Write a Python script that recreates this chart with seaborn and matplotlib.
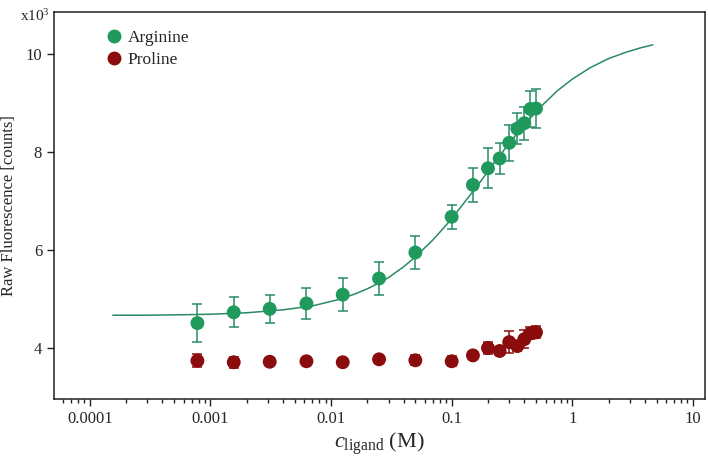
import numpy as np
import pandas as pd
import seaborn as sns
import matplotlib.pyplot as plt

# ligand concentrations (M)
arg_conc = [0.00078, 0.00156, 0.0031, 0.00625, 0.0125, 0.025, 0.05, 0.1, 0.15, 0.2,
            0.25, 0.3, 0.35, 0.4, 0.45, 0.5]
arg_fluo = [4.51, 4.73, 4.80, 4.91, 5.09, 5.42, 5.95, 6.68, 7.33, 7.67,
            7.87, 8.19, 8.48, 8.59, 8.88, 8.89]
arg_err = [0.38, 0.31, 0.28, 0.32, 0.34, 0.33, 0.33, 0.25, 0.34, 0.41,
           0.32, 0.37, 0.32, 0.34, 0.36, 0.40]

pro_conc = [0.00078, 0.00156, 0.0031, 0.00625, 0.0125, 0.025, 0.05, 0.1, 0.15, 0.2,
            0.25, 0.3, 0.35, 0.4, 0.45, 0.5]
pro_fluo = [3.74, 3.71, 3.72, 3.73, 3.71, 3.77, 3.75, 3.73, 3.85, 4.00,
            3.94, 4.12, 4.04, 4.18, 4.30, 4.32]
pro_err = [0.13, 0.11, 0.05, 0.05, 0.05, 0.06, 0.10, 0.10, 0.06, 0.12,
           0.05, 0.23, 0.10, 0.18, 0.12, 0.12]

# fitted binding curve
fit_conc = [0.000155, 0.0003, 0.0006, 0.001, 0.002, 0.004, 0.007, 0.012, 0.016, 0.02,
            0.025, 0.03, 0.04, 0.05, 0.06, 0.07, 0.085, 0.1, 0.13, 0.17,
            0.22, 0.3, 0.4, 0.55, 0.75, 1.0, 1.4, 2.0, 2.8, 3.7, 4.65]
fit_fluo = [4.67, 4.67, 4.68, 4.69, 4.72, 4.78, 4.86, 5.00, 5.11, 5.21,
            5.33, 5.44, 5.66, 5.86, 6.05, 6.21, 6.44, 6.64, 7.00, 7.37,
            7.75, 8.18, 8.56, 8.93, 9.25, 9.49, 9.72, 9.91, 10.04, 10.13, 10.19]

green = '#1f9a5c'
green_line = '#2a8a66'
red = '#8b0c0c'

df = pd.DataFrame({
    'conc': arg_conc + pro_conc,
    'fluo': arg_fluo + pro_fluo,
    'ligand': ['Arginine'] * len(arg_conc) + ['Proline'] * len(pro_conc),
})
fit = pd.DataFrame({'conc': fit_conc, 'fluo': fit_fluo})

sns.set_style('ticks')
plt.rcParams['font.family'] = ['Liberation Serif', 'DejaVu Serif']
plt.rcParams['mathtext.fontset'] = 'custom'
plt.rcParams['mathtext.rm'] = 'Liberation Serif'
plt.rcParams['mathtext.it'] = 'Liberation Serif:italic'

fig = plt.figure(figsize=(7.08, 4.62), dpi=100)
ax = fig.add_axes([0.0763, 0.1364, 0.9195, 0.8376])

sns.lineplot(x='conc', y='fluo', data=fit, color=green_line, lw=1.1, ax=ax, legend=False)
ax.errorbar(arg_conc, arg_fluo, yerr=arg_err, fmt='none', ecolor=green_line,
            elinewidth=1.1, capsize=3.5, capthick=1.1, zorder=2)
ax.errorbar(pro_conc, pro_fluo, yerr=pro_err, fmt='none', ecolor=red,
            elinewidth=1.1, capsize=3.5, capthick=1.1, zorder=2)
sns.scatterplot(x='conc', y='fluo', hue='ligand', data=df,
                palette={'Arginine': green, 'Proline': red},
                s=100, edgecolor='none', ax=ax, zorder=3)

ax.set_xscale('log')
ax.set_xlim(5.05e-5, 12.6)
ax.set_ylim(2.96, 10.86)
ax.set_xticks([0.0001, 0.001, 0.01, 0.1, 1, 10])
ax.set_xticklabels(['0.0001', '0.001', '0.01', '0.1', '1', '10'])
ax.set_yticks([4, 6, 8, 10])
ax.tick_params(axis='both', labelsize=12, length=5, width=1, color='#222222')
ax.tick_params(axis='x', which='minor', length=3, width=1, color='#222222')
for sp in ax.spines.values():
    sp.set_linewidth(1.1)
    sp.set_color('#222222')

ax.set_xlabel(r'$c_{\mathrm{ligand}}$' + ' (M)', fontsize=16, labelpad=3)
ax.set_ylabel('Raw Fluorescence [counts]', fontsize=12, labelpad=6)
fig.text(0.028, 0.965, r'x10$^3$', fontsize=11, ha='left', va='center')

handles, labels = ax.get_legend_handles_labels()
leg = ax.legend(handles, labels, loc='upper left', bbox_to_anchor=(0.081, 0.955), frameon=False,
                fontsize=12.5, handlelength=0.8, handletextpad=0.4, labelspacing=0.35,
                borderaxespad=0, borderpad=0)

plt.savefig('out.png', dpi=100)
